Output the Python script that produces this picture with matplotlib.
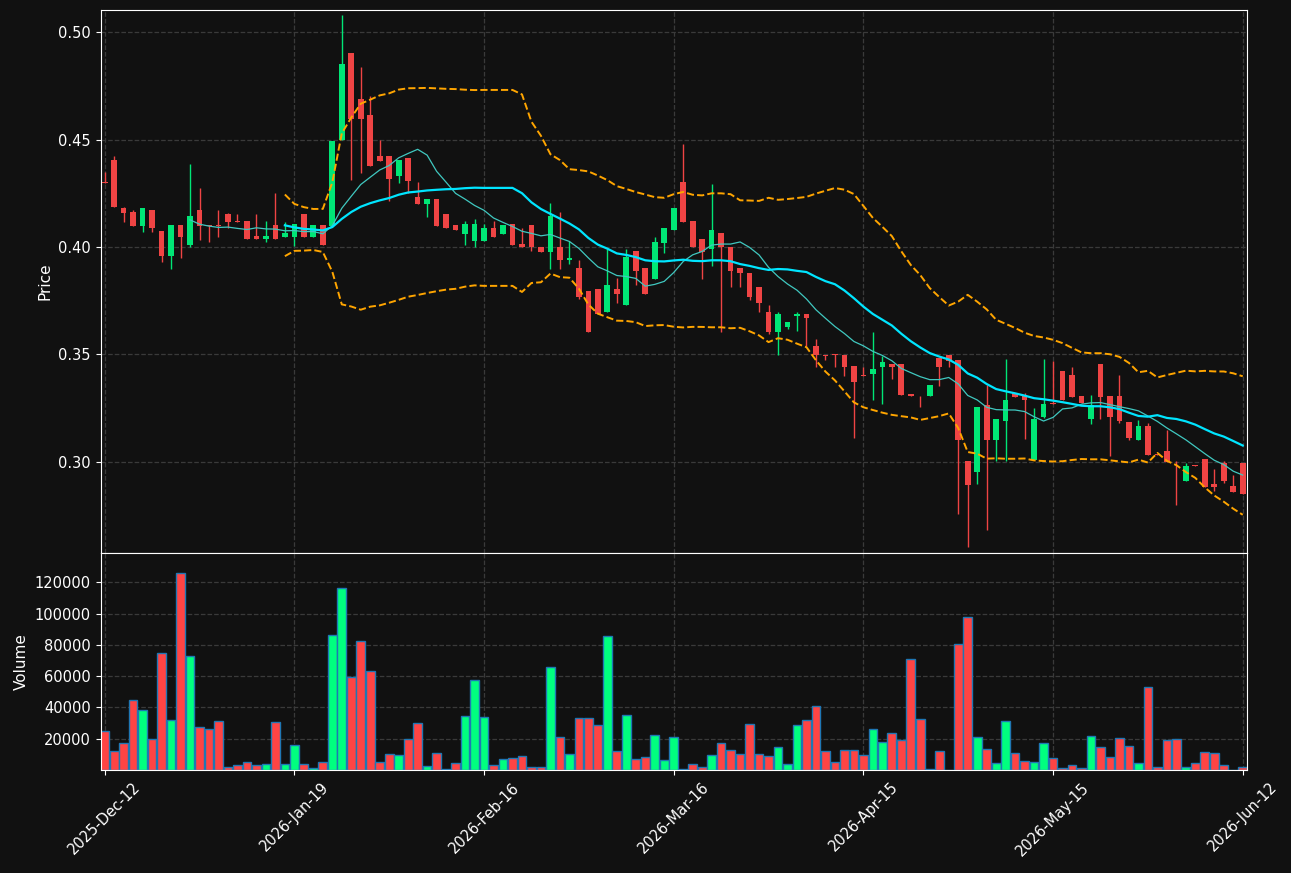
import matplotlib.pyplot as plt
import numpy as np
import pandas as pd

opens = [0.4305, 0.4405, 0.4180, 0.4162, 0.4099, 0.4172, 0.4073, 0.3958, 0.4103, 0.4010,
         0.4172, 0.4101, 0.4104, 0.4153, 0.4121, 0.4121, 0.4051, 0.4038, 0.4103, 0.4047,
         0.4047, 0.4153, 0.4047, 0.4103, 0.4096, 0.4501, 0.4903, 0.4692, 0.4614, 0.4423,
         0.4423, 0.4333, 0.4414, 0.4232, 0.4201, 0.4222, 0.4153, 0.4103, 0.4060, 0.4028,
         0.4028, 0.4091, 0.4060, 0.4109, 0.4013, 0.4103, 0.4002, 0.3976, 0.4002, 0.3940,
         0.3902, 0.3795, 0.3803, 0.3698, 0.3803, 0.3730, 0.3981, 0.3902, 0.3851, 0.4020,
         0.4078, 0.4302, 0.4121, 0.4039, 0.3992, 0.4064, 0.4002, 0.3902, 0.3881, 0.3813,
         0.3699, 0.3602, 0.3626, 0.3678, 0.3689, 0.3540, 0.3497, 0.3501, 0.3498, 0.3445,
         0.3401, 0.3409, 0.3442, 0.3455, 0.3455, 0.3314, 0.3306, 0.3304, 0.3484, 0.3498,
         0.3472, 0.3003, 0.2952, 0.3262, 0.3100, 0.3189, 0.3318, 0.3305, 0.3009, 0.3208,
         0.3273, 0.3422, 0.3403, 0.3305, 0.3200, 0.3455, 0.3305, 0.3305, 0.3184, 0.3100,
         0.3165, 0.3035, 0.3051, 0.3003, 0.2910, 0.2983, 0.3011, 0.2894, 0.2994, 0.2886,
         0.2994]
highs = [0.4350, 0.4422, 0.4188, 0.4172, 0.4180, 0.4172, 0.4073, 0.4103, 0.4103, 0.4389,
         0.4273, 0.4101, 0.4172, 0.4160, 0.4153, 0.4121, 0.4153, 0.4121, 0.4250, 0.4117,
         0.4109, 0.4153, 0.4103, 0.4103, 0.4493, 0.5079, 0.4903, 0.4841, 0.4704, 0.4500,
         0.4423, 0.4405, 0.4414, 0.4302, 0.4222, 0.4222, 0.4153, 0.4103, 0.4121, 0.4133,
         0.4109, 0.4121, 0.4103, 0.4109, 0.4091, 0.4103, 0.4002, 0.4205, 0.4162, 0.4028,
         0.3941, 0.3795, 0.3803, 0.3992, 0.3856, 0.3992, 0.3981, 0.3902, 0.4048, 0.4091,
         0.4180, 0.4482, 0.4121, 0.4039, 0.4292, 0.4064, 0.4002, 0.3902, 0.3881, 0.3813,
         0.3732, 0.3699, 0.3652, 0.3699, 0.3689, 0.3573, 0.3499, 0.3501, 0.3498, 0.3445,
         0.3443, 0.3602, 0.3492, 0.3455, 0.3455, 0.3314, 0.3306, 0.3359, 0.3484, 0.3498,
         0.3472, 0.3003, 0.3254, 0.3359, 0.3200, 0.3480, 0.3318, 0.3321, 0.3250, 0.3480,
         0.3469, 0.3422, 0.3443, 0.3305, 0.3310, 0.3455, 0.3305, 0.3403, 0.3184, 0.3192,
         0.3181, 0.3035, 0.3148, 0.3003, 0.2994, 0.2983, 0.3011, 0.2965, 0.3003, 0.2938,
         0.2994]
lows = [0.4298, 0.4187, 0.4119, 0.4099, 0.4072, 0.4072, 0.3932, 0.3900, 0.3950, 0.4002,
        0.4031, 0.4022, 0.4047, 0.4090, 0.4118, 0.4038, 0.4038, 0.4022, 0.4038, 0.4047,
        0.4007, 0.4047, 0.4047, 0.4010, 0.4096, 0.4501, 0.4312, 0.4344, 0.4378, 0.4402,
        0.4213, 0.4299, 0.4250, 0.4201, 0.4141, 0.4099, 0.4090, 0.4078, 0.4010, 0.4000,
        0.4028, 0.4047, 0.4060, 0.4010, 0.4000, 0.3980, 0.3976, 0.3900, 0.3900, 0.3920,
        0.3759, 0.3602, 0.3689, 0.3698, 0.3740, 0.3730, 0.3821, 0.3782, 0.3851, 0.3970,
        0.4078, 0.4117, 0.4000, 0.3853, 0.3910, 0.3602, 0.3813, 0.3813, 0.3751, 0.3699,
        0.3594, 0.3498, 0.3618, 0.3610, 0.3537, 0.3443, 0.3473, 0.3443, 0.3400, 0.3111,
        0.3398, 0.3289, 0.3270, 0.3383, 0.3310, 0.3304, 0.3254, 0.3304, 0.3351, 0.3442,
        0.2755, 0.2601, 0.2894, 0.2683, 0.3003, 0.3003, 0.3302, 0.3105, 0.3009, 0.3205,
        0.3268, 0.3286, 0.3302, 0.3273, 0.3176, 0.3200, 0.3027, 0.3181, 0.3103, 0.3100,
        0.3030, 0.3032, 0.2998, 0.2800, 0.2910, 0.2981, 0.2884, 0.2865, 0.2902, 0.2857,
        0.2849]
closes = [0.4300, 0.4187, 0.4159, 0.4099, 0.4180, 0.4090, 0.3958, 0.4103, 0.4047, 0.4143,
          0.4099, 0.4097, 0.4098, 0.4115, 0.4119, 0.4038, 0.4038, 0.4051, 0.4038, 0.4065,
          0.4109, 0.4047, 0.4103, 0.4010, 0.4493, 0.4853, 0.4598, 0.4598, 0.4378, 0.4402,
          0.4318, 0.4405, 0.4308, 0.4201, 0.4222, 0.4099, 0.4090, 0.4078, 0.4109, 0.4109,
          0.4091, 0.4047, 0.4103, 0.4010, 0.4000, 0.4000, 0.3976, 0.4143, 0.3940, 0.3951,
          0.3768, 0.3602, 0.3689, 0.3822, 0.3782, 0.3953, 0.3889, 0.3782, 0.4022, 0.4091,
          0.4180, 0.4117, 0.4000, 0.3978, 0.4080, 0.4000, 0.3889, 0.3881, 0.3767, 0.3740,
          0.3602, 0.3689, 0.3652, 0.3689, 0.3670, 0.3498, 0.3493, 0.3497, 0.3440, 0.3370,
          0.3399, 0.3430, 0.3463, 0.3442, 0.3310, 0.3304, 0.3304, 0.3359, 0.3442, 0.3469,
          0.3100, 0.2892, 0.3254, 0.3100, 0.3200, 0.3289, 0.3302, 0.3286, 0.3200, 0.3270,
          0.3270, 0.3286, 0.3302, 0.3273, 0.3262, 0.3302, 0.3208, 0.3189, 0.3111, 0.3165,
          0.3030, 0.3032, 0.2998, 0.3001, 0.2981, 0.2981, 0.2884, 0.2881, 0.2910, 0.2857,
          0.2849]
volumes = [24800, 12000, 17100, 44700, 38300, 19700, 74900, 31900, 126200, 72900,
           27400, 26100, 31200, 1700, 3000, 4900, 3000, 3600, 30600, 3600,
           15800, 3600, 1100, 4900, 86400, 116600, 59700, 82600, 63300, 4900,
           10100, 9400, 19700, 29900, 2400, 10700, 600, 4300, 34400, 57500,
           33800, 3000, 6800, 7500, 8800, 1700, 1700, 65900, 21000, 10100,
           33200, 33200, 28700, 85800, 12000, 35100, 6800, 8100, 22200, 6200,
           21000, 600, 3600, 1700, 9400, 17100, 12600, 10100, 29300, 10100,
           8800, 14500, 3600, 28700, 31900, 40900, 12000, 4900, 12600, 12600,
           9400, 26100, 17800, 23500, 19000, 71000, 32500, 400, 12000, 100,
           80600, 98000, 21000, 13300, 4300, 31200, 10700, 5600, 4900, 17100,
           7500, 1100, 3000, 1100, 21600, 14500, 8100, 20300, 15200, 4300,
           53000, 1700, 19000, 19700, 1700, 4300, 11300, 10700, 3000, 200,
           1700]
tick_labels = ['2025-Dec-12', '2026-Jan-19', '2026-Feb-16', '2026-Mar-16',
               '2026-Apr-15', '2026-May-15', '2026-Jun-12']

df = pd.DataFrame({'open': opens, 'high': highs, 'low': lows,
                   'close': closes, 'volume': volumes})
x = np.arange(len(df))
up = df['close'] >= df['open']

sma10 = df['close'].rolling(10).mean()
sma20 = df['close'].rolling(20).mean()
std20 = df['close'].rolling(20).std()
upper = sma20 + 2 * std20
lower = sma20 - 2 * std20

bg = '#111111'
fig = plt.figure(figsize=(12.91, 8.73), dpi=100, facecolor=bg)
gs = fig.add_gridspec(2, 1, height_ratios=[2.5, 1], hspace=0,
                      left=0.078, right=0.966, top=0.9885, bottom=0.118)
ax = fig.add_subplot(gs[0])
axv = fig.add_subplot(gs[1], sharex=ax)

candle_colors = np.where(up, '#00e676', '#ef4444')
vol_colors = np.where(up, '#00ff7f', '#ff4444')

# wicks and bodies
ax.vlines(x, df['low'], df['high'], colors=candle_colors, linewidth=1)
body_bottom = np.minimum(df['open'], df['close'])
body_height = np.maximum(np.abs(df['close'] - df['open']), 0.0004)
ax.bar(x, body_height, 0.6, bottom=body_bottom, color=candle_colors, linewidth=0)

ax.plot(x, sma10, color='#40c8c0', linewidth=0.9)
ax.plot(x, sma20, color='#00e5ff', linewidth=1.6)
ax.plot(x, upper, color='orange', linestyle='--', linewidth=1.4)
ax.plot(x, lower, color='orange', linestyle='--', linewidth=1.4)

axv.bar(x, df['volume'], 0.92, color=vol_colors, edgecolor='#1f77b4', linewidth=1)

for a in (ax, axv):
    a.set_facecolor(bg)
    a.grid(True, linestyle='--', color='#3a3a3a', linewidth=0.9)
    a.set_axisbelow(True)
    for s in a.spines.values():
        s.set_color('white')
    a.tick_params(colors='white', labelsize=10.5)

ax.set_ylim(min(lows) * 0.99, max(highs) * 1.005)
ax.set_yticks([0.30, 0.35, 0.40, 0.45, 0.50])
ax.set_ylabel('Price', color='white', fontsize=11)
ax.tick_params(axis='x', labelbottom=False, length=0)

axv.set_ylim(0, max(volumes) * 1.1)
axv.set_yticks([20000, 40000, 60000, 80000, 100000, 120000])
axv.set_ylabel('Volume', color='white', fontsize=11)
axv.set_xlim(-0.42, len(df) - 0.54)
axv.set_xticks(x[::20])
axv.set_xticklabels(tick_labels, rotation=45)

plt.savefig('out.png', facecolor=bg)
